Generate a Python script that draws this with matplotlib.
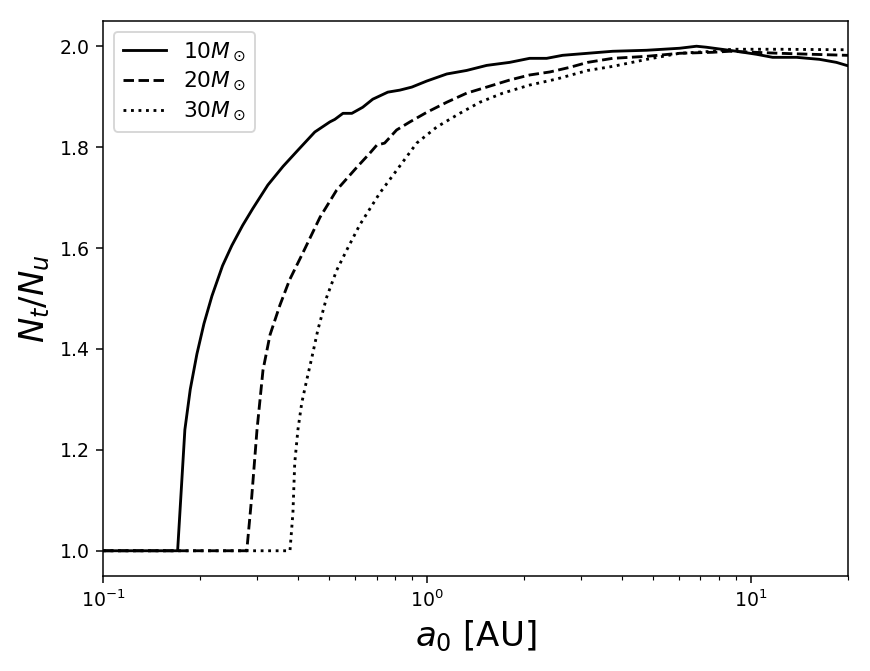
import matplotlib
matplotlib.use("Agg")
import matplotlib.pyplot as plt

# 10 Msun
a_10 = [0.10, 0.170, 0.179, 0.186, 0.195, 0.205, 0.217, 0.234, 0.250, 0.270, 0.290,
        0.323, 0.360, 0.400, 0.451, 0.502, 0.520, 0.551, 0.587, 0.634, 0.681, 0.758,
        0.826, 0.899, 1.0, 1.153, 1.328, 1.531, 1.803, 2.078, 2.346, 2.628, 3.140,
        3.752, 4.775, 6.04, 6.81, 7.31, 9.05, 10.44, 11.70, 13.87, 16.33, 18.42, 19.8, 21.0]
n_10 = [1.0, 1.0, 1.240, 1.320, 1.390, 1.450, 1.505, 1.565, 1.605, 1.645, 1.678,
        1.725, 1.762, 1.794, 1.830, 1.850, 1.855, 1.867, 1.867, 1.879, 1.895, 1.909,
        1.913, 1.919, 1.931, 1.945, 1.952, 1.962, 1.968, 1.976, 1.976, 1.982, 1.986,
        1.990, 1.992, 1.996, 2.000, 1.998, 1.990, 1.984, 1.978, 1.978, 1.974, 1.968,
        1.962, 1.958]

# 20 Msun
a_20 = [0.10, 0.278, 0.288, 0.299, 0.312, 0.328, 0.352, 0.377, 0.414, 0.468, 0.527,
        0.608, 0.667, 0.701, 0.741, 0.807, 0.887, 1.0, 1.153, 1.328, 1.531, 1.803,
        2.078, 2.40, 2.76, 3.14, 3.75, 4.78, 6.04, 7.64, 8.61, 12.3, 15.5, 19.8, 21.0]
n_20 = [1.0, 1.0, 1.107, 1.240, 1.358, 1.428, 1.487, 1.537, 1.590, 1.661, 1.715,
        1.760, 1.788, 1.804, 1.808, 1.834, 1.850, 1.869, 1.889, 1.907, 1.919, 1.933,
        1.943, 1.949, 1.958, 1.968, 1.976, 1.980, 1.986, 1.988, 1.990, 1.986, 1.984,
        1.982, 1.982]

# 30 Msun
a_30 = [0.10, 0.378, 0.386, 0.391, 0.400, 0.411, 0.426, 0.442, 0.461, 0.491, 0.527,
        0.566, 0.621, 0.716, 0.807, 0.931, 1.074, 1.265, 1.459, 1.717, 2.078, 2.518,
        3.14, 3.75, 4.78, 6.04, 7.64, 8.79, 12.3, 19.8, 21.0]
n_30 = [1.0, 1.0, 1.075, 1.174, 1.240, 1.293, 1.339, 1.384, 1.438, 1.503, 1.556,
        1.596, 1.646, 1.709, 1.754, 1.808, 1.840, 1.867, 1.889, 1.907, 1.923, 1.935,
        1.952, 1.960, 1.974, 1.986, 1.990, 1.994, 1.994, 1.993, 1.993]

fig = plt.figure(figsize=(870 / 136, 671 / 136), dpi=136)
ax = fig.add_axes([0.1184, 0.1416, 0.8563, 0.8271])

ax.plot(a_10, n_10, 'k-', lw=1.5, label=r'$10M_\odot$')
ax.plot(a_20, n_20, 'k--', lw=1.5, label=r'$20M_\odot$')
ax.plot(a_30, n_30, 'k:', lw=1.5, label=r'$30M_\odot$')

ax.set_xscale('log')
ax.set_xlim(0.1, 20)
ax.set_ylim(0.95, 2.05)
ax.set_xlabel(r'$a_0$ [AU]', fontsize=18)
ax.set_ylabel(r'$N_t/N_u$', fontsize=18)
ax.legend(loc='upper left', fontsize=11.5, labelspacing=0.3)

fig.savefig('out.png', dpi=136)
